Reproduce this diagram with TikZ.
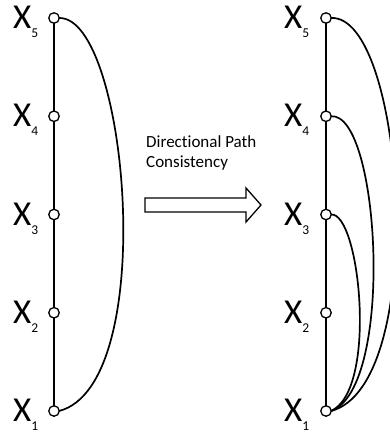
\documentclass[tikz,border=0pt]{standalone}
\usepackage{fontspec}
\setmainfont[Ligatures=NoCommon]{Carlito}
\newcommand\vsub[1]{\raisebox{-9pt}{\fontsize{13.5}{13.5}\selectfont #1}}
\tikzset{
  vert/.style={circle, draw, fill=white, minimum size=10.5pt, inner sep=0pt, line width=1.3pt},
  lbl/.style={anchor=base west, inner sep=0pt, font=\fontsize{35}{35}\selectfont},
  edge/.style={line width=1.7pt},
  caption/.style={anchor=base west, inner sep=0pt, align=left, font=\fontsize{17}{20}\selectfont}
}
\begin{document}
\begin{tikzpicture}[x=1pt, y=-1pt]
  \useasboundingbox (0,0) rectangle (390,436);
  \clip (0,0) rectangle (390,436);

  % vertices and their labels, left and right chains
  \foreach \i/\y in {1/411,2/312.75,3/214.5,4/116.25,5/18} {
    \coordinate (v\i) at (54,\y);
    \coordinate (w\i) at (326,\y);
    \node[lbl] (lv\i) at (13,\y+10.5) {X\vsub{\i}};
    \node[lbl] (lw\i) at (284,\y+10.5) {X\vsub{\i}};
  }

  % left chain and its single arc
  \draw[edge] (v5) -- (v4) -- (v3) -- (v2) -- (v1);
  \draw[edge] ([xshift=5pt]v5) .. controls (128,16) and (160,385) .. ([xshift=5pt]v1);

  % right chain with the added arcs
  \draw[edge] (w5) -- (w4) -- (w3) -- (w2) -- (w1);
  \draw[edge] ([xshift=5pt]w3) .. controls (360,212) and (378,390) .. ([xshift=5pt]w1);
  \draw[edge] ([xshift=5pt]w4) .. controls (380,112) and (395,388) .. ([xshift=5pt]w1);
  \draw[edge] ([xshift=5pt]w5) .. controls (405,14) and (430,385) .. ([xshift=5pt]w1);

  % vertex circles on top of the edges
  \foreach \i in {1,...,5} {
    \node[vert] (cv\i) at (v\i) {};
    \node[vert] (cw\i) at (w\i) {};
  }

  % transformation arrow and caption
  \node[caption] (cap) at (146,167) {Directional Path\\Consistency};
  \draw[line width=1.3pt, line join=miter]
    (145,198) -- (246,198) -- (246,188) -- (261,205) -- (246,222)
    -- (246,212) -- (145,212) -- cycle;
\end{tikzpicture}
\end{document}
